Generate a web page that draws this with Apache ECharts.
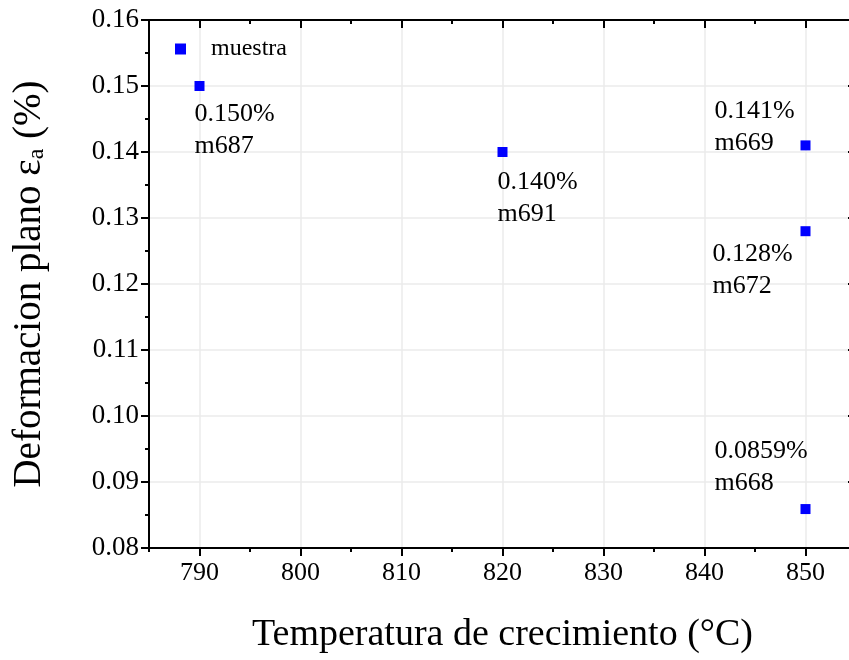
<!DOCTYPE html>
<html>
<head>
<meta charset="utf-8">
<script src="https://cdn.jsdelivr.net/npm/echarts@6/dist/echarts.min.js"></script>
<style>
  html, body { margin: 0; padding: 0; background: #fff; }
  #chart { width: 849px; height: 660px; }
</style>
</head>
<body>
<div id="chart"></div>
<script>
const temps = [790, 820, 850, 850, 850]
const strains = [0.150, 0.140, 0.141, 0.128, 0.0859]
const samples = ['m687', 'm691', 'm669', 'm672', 'm668']
const seriesName = 'muestra'

// where each label block sits relative to its marker (top-left of symbol box)
const labelSpots = [[0, 17], [0, 19], [-86, -45], [-88, 12], [-86, -69]]

const FONT = 'Liberation Serif, Times New Roman, serif'
const INK = '#000'
const GRID_LINE = { show: true, lineStyle: { color: '#ebebeb', width: 1.5 } }

const chart = echarts.init(document.getElementById('chart'))

const points = temps.map((t, i) => ({
  value: [t, strains[i]],
  label: {
    show: true,
    position: labelSpots[i],
    align: 'left',
    verticalAlign: 'top',
    color: INK,
    fontFamily: FONT,
    fontSize: 26,
    lineHeight: 32,
    formatter: () => strains[i].toPrecision(3) + '%\n' + samples[i],
  },
}))

const baseX = {
  type: 'value',
  min: 785,
  max: 855,
  axisLine: { show: true, onZero: false, lineStyle: { color: INK, width: 2 } },
  splitLine: { show: false },
  axisLabel: { show: false },
}

const option = {
  backgroundColor: '#fff',
  animation: false,
  grid: { left: 149, width: 707, top: 20, height: 528, containLabel: false, outerBoundsMode: 'none' },
  legend: {
    left: 170,
    top: 32,
    icon: 'rect',
    itemWidth: 11,
    itemHeight: 11,
    data: [seriesName],
    textStyle: { color: INK, fontFamily: FONT, fontSize: 24, padding: [0, 0, 0, 20] },
  },
  xAxis: [
    {
      ...baseX,
      position: 'bottom',
      splitNumber: 7,
      axisTick: { show: true, inside: false, length: 8, lineStyle: { color: INK, width: 2 } },
      splitLine: GRID_LINE,
      axisLabel: {
        show: true,
        showMinLabel: false,
        showMaxLabel: false,
        color: INK,
        fontFamily: FONT,
        fontSize: 26,
        margin: 12,
      },
      name: 'Temperatura de crecimiento (°C)',
      nameLocation: 'middle',
      nameGap: 68,
      nameTextStyle: { color: INK, fontFamily: FONT, fontSize: 38 },
    },
    {
      ...baseX,
      position: 'bottom',
      interval: 5,
      axisLine: { show: false, onZero: false },
      axisTick: { show: true, inside: false, length: 4, lineStyle: { color: INK, width: 2 } },
    },
    {
      ...baseX,
      position: 'top',
      splitNumber: 7,
      axisTick: { show: true, inside: true, length: 8, lineStyle: { color: INK, width: 2 } },
    },
    {
      ...baseX,
      position: 'top',
      interval: 5,
      axisLine: { show: false, onZero: false },
      axisTick: { show: true, inside: true, length: 4, lineStyle: { color: INK, width: 2 } },
    },
  ],
  yAxis: [
    {
      type: 'value',
      position: 'left',
      min: 0.08,
      max: 0.16,
      interval: 0.01,
      axisLine: { show: true, onZero: false, lineStyle: { color: INK, width: 2 } },
      axisTick: { show: true, inside: false, length: 8, lineStyle: { color: INK, width: 2 } },
      minorTick: { show: true, splitNumber: 2, length: 4, lineStyle: { color: INK, width: 2 } },
      splitLine: GRID_LINE,
      axisLabel: {
        color: INK,
        fontFamily: FONT,
        fontSize: 27,
        margin: 10,
        formatter: (v) => v.toFixed(2),
      },
      name: 'Deformacion plano ε{sub|a} (%)',
      nameLocation: 'middle',
      nameGap: 100,
      nameTextStyle: {
        color: INK,
        fontFamily: FONT,
        fontSize: 39,
        lineHeight: 39,
        rich: {
          sub: { fontFamily: FONT, fontSize: 24, lineHeight: 24, verticalAlign: 'bottom', color: INK },
        },
      },
    },
    {
      type: 'value',
      position: 'right',
      min: 0.08,
      max: 0.16,
      interval: 0.01,
      axisLine: { show: false, onZero: false },
      axisTick: { show: true, inside: true, length: 8, lineStyle: { color: INK, width: 2 } },
      minorTick: { show: true, splitNumber: 2, length: 4, lineStyle: { color: INK, width: 2 } },
      splitLine: { show: false },
      axisLabel: { show: false },
    },
  ],
  series: [
    {
      name: seriesName,
      type: 'scatter',
      xAxisIndex: 0,
      yAxisIndex: 0,
      symbol: 'rect',
      symbolSize: 10,
      itemStyle: { color: '#0000ff', opacity: 1 },
      data: points,
    },
  ],
}

chart.setOption(option)
</script>
</body>
</html>
